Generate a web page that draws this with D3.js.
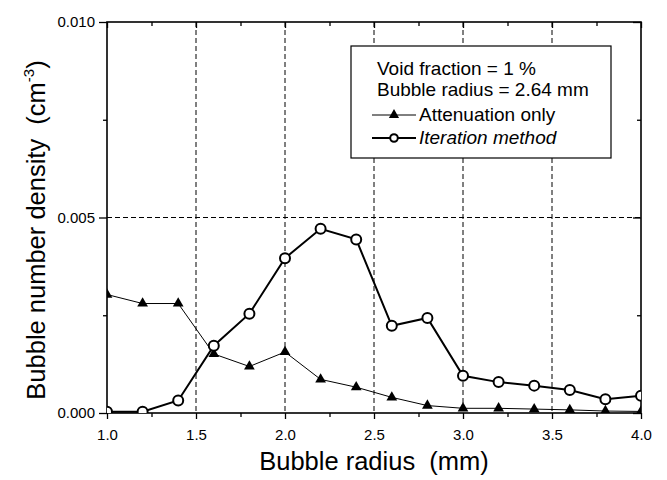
<!DOCTYPE html>
<html>
<head>
<meta charset="utf-8">
<script src="https://cdn.jsdelivr.net/npm/d3@7"></script>
<style>
  body { margin: 0; background: #fff; }
  svg { display: block; font-family: "Liberation Sans", Arial, sans-serif; }
  .pre { white-space: pre; }
</style>
</head>
<body>
<svg id="chart" width="667" height="480"></svg>
<script>
// ---- data ----
const radius = [1.0, 1.2, 1.4, 1.6, 1.8, 2.0, 2.2, 2.4, 2.6, 2.8, 3.0, 3.2, 3.4, 3.6, 3.8, 4.0];
const attenuationOnly = [0.00303, 0.0028, 0.0028, 0.00151, 0.00119, 0.00156, 0.00086, 0.00066, 0.0004, 0.00019, 0.00012, 0.00012, 0.0001, 0.00008, 0.00005, 0.00004];
const iterationMethod = [0.00003, 0.00003, 0.00032, 0.00172, 0.00254, 0.00396, 0.00471, 0.00444, 0.00223, 0.00243, 0.00095, 0.00079, 0.0007, 0.00059, 0.00035, 0.00044];
const xMajorTicks = [1.0, 1.5, 2.0, 2.5, 3.0, 3.5, 4.0];
const xMinorTicks = [1.25, 1.75, 2.25, 2.75, 3.25, 3.75];
const yMajorTicks = [0.000, 0.005, 0.010];
const yMinorTicks = [0.0025, 0.0075];
const xGrid = [1.5, 2.0, 2.5, 3.0, 3.5];
const yGrid = [0.005];
const legendNotes = ["Void fraction = 1 %", "Bubble radius = 2.64 mm"];
const seriesNames = ["Attenuation only", "Iteration method"];

// ---- layout ----
const svg = d3.select("#chart");
const L = 107, R = 641, T = 22, B = 413;
const x = d3.scaleLinear().domain([1.0, 4.0]).range([L, R]);
const y = d3.scaleLinear().domain([0, 0.010]).range([B, T]);

// clip
svg.append("defs").append("clipPath").attr("id", "plotclip")
  .append("rect").attr("x", L).attr("y", T).attr("width", R - L).attr("height", B - T);

// grid
const grid = svg.append("g").attr("stroke", "#000").attr("stroke-width", 1).attr("stroke-dasharray", "5,3");
grid.selectAll("line.vx").data(xGrid).join("line")
  .attr("x1", d => x(d)).attr("x2", d => x(d)).attr("y1", T).attr("y2", B);
grid.selectAll("line.hy").data(yGrid).join("line")
  .attr("x1", L).attr("x2", R).attr("y1", d => y(d)).attr("y2", d => y(d));

// axes
const fmtX = d3.format(".1f"), fmtY = d3.format(".3f");
const axB = svg.append("g").attr("transform", `translate(0,${B})`)
  .call(d3.axisBottom(x).tickValues(xMajorTicks).tickFormat(fmtX).tickSize(6).tickPadding(10));
const axBm = svg.append("g").attr("transform", `translate(0,${B})`)
  .call(d3.axisBottom(x).tickValues(xMinorTicks).tickFormat("").tickSize(4));
const axL = svg.append("g").attr("transform", `translate(${L},0)`)
  .call(d3.axisLeft(y).tickValues(yMajorTicks).tickFormat(fmtY).tickSize(8).tickPadding(4));
const axLm = svg.append("g").attr("transform", `translate(${L},0)`)
  .call(d3.axisLeft(y).tickValues(yMinorTicks).tickFormat("").tickSize(4));
const axT = svg.append("g").attr("transform", `translate(0,${T})`)
  .call(d3.axisTop(x).tickValues(xMajorTicks).tickFormat("").tickSize(-6));
const axTm = svg.append("g").attr("transform", `translate(0,${T})`)
  .call(d3.axisTop(x).tickValues(xMinorTicks).tickFormat("").tickSize(-4));
const axR = svg.append("g").attr("transform", `translate(${R},0)`)
  .call(d3.axisRight(y).tickValues(yMajorTicks).tickFormat("").tickSize(-8));
const axRm = svg.append("g").attr("transform", `translate(${R},0)`)
  .call(d3.axisRight(y).tickValues(yMinorTicks).tickFormat("").tickSize(-4));
[axB, axBm, axL, axLm, axT, axTm, axR, axRm].forEach(g => {
  g.select(".domain").remove();
  g.selectAll(".tick line").attr("stroke", "#000").attr("stroke-width", 1.3);
  g.selectAll(".tick text").attr("fill", "#000").attr("font-size", 15)
    .attr("font-family", "'Liberation Sans', Arial, sans-serif");
});

// frame
svg.append("rect").attr("x", L).attr("y", T).attr("width", R - L).attr("height", B - T)
  .attr("fill", "none").attr("stroke", "#000").attr("stroke-width", 1.6);

// series
const plot = svg.append("g").attr("clip-path", "url(#plotclip)");
const pts = (vals) => radius.map((r, i) => [r, vals[i]]);
const line = d3.line().x(d => x(d[0])).y(d => y(d[1]));
const tri = d3.symbol().type(d3.symbolTriangle).size(50);

plot.append("path").datum(pts(attenuationOnly)).attr("d", line)
  .attr("fill", "none").attr("stroke", "#000").attr("stroke-width", 1);
plot.selectAll("path.tri").data(pts(attenuationOnly)).join("path").attr("class", "tri")
  .attr("d", tri).attr("transform", d => `translate(${x(d[0])},${y(d[1])})`).attr("fill", "#000");

plot.append("path").datum(pts(iterationMethod)).attr("d", line)
  .attr("fill", "none").attr("stroke", "#000").attr("stroke-width", 2);
plot.selectAll("circle.it").data(pts(iterationMethod)).join("circle").attr("class", "it")
  .attr("cx", d => x(d[0])).attr("cy", d => y(d[1])).attr("r", 5)
  .attr("fill", "#fff").attr("stroke", "#000").attr("stroke-width", 2);

// legend
const lg = svg.append("g");
lg.append("rect").attr("x", 351).attr("y", 46).attr("width", 260).attr("height", 112)
  .attr("fill", "#fff").attr("stroke", "#000").attr("stroke-width", 1.2);
const legFont = 19;
legendNotes.forEach((t, i) => {
  lg.append("text").attr("x", 377).attr("y", 75 + i * 21).attr("font-size", legFont).attr("fill", "#000").text(t);
});
// attenuation entry
lg.append("line").attr("x1", 372).attr("x2", 416).attr("y1", 115).attr("y2", 115).attr("stroke", "#000").attr("stroke-width", 1);
lg.append("path").attr("d", d3.symbol().type(d3.symbolTriangle).size(45)()).attr("transform", "translate(394,115)").attr("fill", "#000");
lg.append("text").attr("x", 419).attr("y", 121).attr("font-size", legFont).attr("fill", "#000").text(seriesNames[0]);
// iteration entry
lg.append("line").attr("x1", 372).attr("x2", 416).attr("y1", 138).attr("y2", 138).attr("stroke", "#000").attr("stroke-width", 2);
lg.append("circle").attr("cx", 394).attr("cy", 138).attr("r", 3.8).attr("fill", "#fff").attr("stroke", "#000").attr("stroke-width", 2);
lg.append("text").attr("x", 419).attr("y", 144).attr("font-size", legFont).attr("font-style", "italic").attr("fill", "#000").text(seriesNames[1]);

// axis titles
svg.append("text").attr("class", "pre").attr("x", 374).attr("y", 470).attr("text-anchor", "middle")
  .attr("font-size", 25.5).attr("fill", "#000").text("Bubble radius  (mm)");
const yl = svg.append("text").attr("class", "pre").attr("transform", "translate(45,230) rotate(-90)")
  .attr("text-anchor", "middle").attr("font-size", 25.5).attr("fill", "#000");
yl.append("tspan").text("Bubble number density  (cm");
yl.append("tspan").attr("font-size", 15).attr("dy", -11).text("-3");
yl.append("tspan").attr("dy", 11).text(")");
</script>
</body>
</html>
